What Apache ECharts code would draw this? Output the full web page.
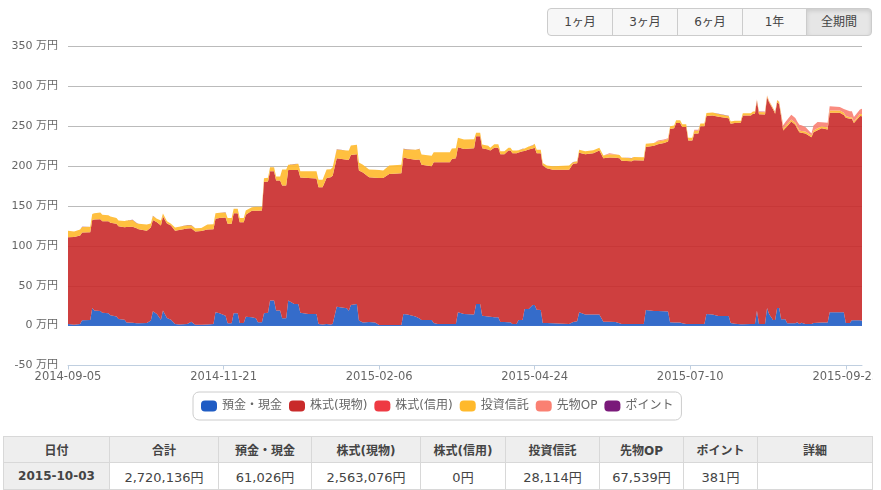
<!DOCTYPE html>
<html lang="ja">

<head>
    <meta charset="UTF-8">
    <title>資産推移</title>
    <script src="https://cdn.jsdelivr.net/npm/echarts/dist/echarts.min.js"></script>
    <style>
        html, body { margin: 0; padding: 0; background: #fff; overflow: hidden; }
        body { width: 881px; height: 490px; position: relative; font-family: "DejaVu Sans", "Noto Sans CJK JP", sans-serif; color: #444; }
        #chart { position: absolute; left: 0; top: 0; width: 873px; height: 430px; }
        #range { position: absolute; left: 547px; top: 8px; display: flex; height: 28px; }
        #range div { box-sizing: border-box; height: 28px; line-height: 26px; text-align: center; font-size: 12px; border: 1px solid #ccc; margin-left: -1px; background: #f7f7f7; color: #444; }
        #range div:first-child { border-radius: 4px 0 0 4px; margin-left: 0; }
        #range div:last-child { border-radius: 0 4px 4px 0; background: #e6e6e6; box-shadow: inset 0 2px 4px rgba(0,0,0,.12); }
        table { position: absolute; left: 3px; top: 436px; width: 870px; height: 54px; border-collapse: collapse; table-layout: fixed; font-size: 13px; }
        th, td { border: 1px solid #d8d8d8; text-align: center; padding: 0; font-weight: normal; }
        th { background: #eee; font-weight: bold; font-size: 12px; }
        tr:first-child th { height: 25px; }
    </style>
</head>

<body>
    <div id="chart"></div>
    <div id="range"></div>
    <table id="summary"></table>
    <script>
        const rangeLabels = ['1ヶ月', '3ヶ月', '6ヶ月', '1年', '全期間'];
        const rangeWidths = [66, 66, 66, 65, 66];
        const seriesNames = ['預金・現金', '株式(現物)', '株式(信用)', '投資信託', '先物OP', 'ポイント'];
        const seriesColors = ['#1f5cc4', '#c92a2a', '#ee3a43', '#ffb92b', '#fa8072', '#7a1a7a'];
        const tickLabels = ['2014-09-05', '2014-11-21', '2015-02-06', '2015-04-24', '2015-07-10', '2015-09-25'];

        const tableHead = ['日付', '合計', '預金・現金', '株式(現物)', '株式(信用)', '投資信託', '先物OP', 'ポイント', '詳細'];
        const tableRow = ['2015-10-03', '2,720,136円', '61,026円', '2,563,076円', '0円', '28,114円', '67,539円', '381円', ''];
        const tableWidths = [106, 109, 93, 109, 85, 94, 84, 74, 115];

        // 2014-09-05 からの経過日数
        const days = [
            0, 3, 6, 7, 11, 12, 13, 16, 17, 20,
            21, 24, 25, 28, 29, 32, 34, 35, 39, 41,
            42, 44, 46, 47, 49, 51, 53, 55, 59, 61,
            63, 66, 69, 72, 73, 75, 78, 79, 81, 82,
            84, 85, 87, 88, 91, 93, 94, 96, 97, 99,
            100, 102, 103, 105, 106, 108, 109, 112, 114, 115,
            119, 123, 124, 126, 128, 130, 131, 133, 138, 139,
            140, 143, 144, 146, 149, 152, 154, 156, 159, 165,
            166, 168, 172, 174, 175, 180, 181, 183, 189, 190,
            192, 193, 196, 201, 202, 204, 205, 208, 209, 211,
            213, 214, 216, 218, 219, 220, 222, 223, 225, 226,
            228, 230, 231, 232, 234, 235, 237, 240, 248, 250,
            252, 253, 256, 260, 263, 265, 268, 271, 273, 274,
            279, 280, 285, 286, 290, 292, 295, 297, 298, 300,
            301, 303, 304, 306, 307, 309, 310, 312, 313, 315,
            316, 319, 322, 327, 328, 330, 333, 334, 338, 339,
            340, 341, 342, 345, 346, 347, 349, 350, 351, 352,
            353, 354, 355, 356, 358, 360, 361, 362, 363, 365,
            368, 369, 371, 373, 376, 377, 382, 384, 385, 387,
            388, 389, 392, 393
        ];
        // 単位: 万円
        const cash = [
            2, 1.2, 2, 6.7, 7, 22, 19, 18.4, 16, 15.5,
            13, 11.3, 8.4, 7.5, 4, 3.5, 3, 3, 3.3, 6.3,
            18, 14.6, 7.5, 19, 9.6, 7.5, 2, 1.5, 2, 5,
            1.2, 1.2, 1.5, 2, 16.7, 15.5, 12.5, 3, 3, 15.5,
            15.5, 3.3, 3.3, 11, 10.5, 9.2, 4.2, 4.2, 15.5, 16,
            31.4, 31.4, 19, 19, 9.2, 9.2, 31.4, 27, 27, 16,
            14.6, 14.6, 2, 1.5, 2, 1.5, 2, 23.8, 21.8, 18.8,
            26, 27, 6.3, 3.8, 4.6, 3.8, 0.8, 0.8, 0.8, 0.8,
            14.6, 13.8, 11.3, 9, 7, 7, 3.3, 2, 2, 2,
            2, 16.7, 14.6, 13.8, 27, 27, 12.5, 11.3, 11, 10.5,
            10.5, 4.6, 4.6, 4.2, 4.2, 2, 2, 7, 7, 21,
            21, 26, 26, 20, 19.7, 3.3, 3.3, 3, 2, 4.6,
            5.4, 16.7, 13.8, 13.8, 13.8, 5, 4.8, 4.6, 3, 2,
            2, 2, 2, 19.7, 18.4, 18.2, 18, 17.6, 4.2, 4,
            4, 3.8, 3, 2, 2, 2, 2, 2, 2, 2,
            14.6, 14, 12, 12, 3.3, 2.5, 1.7, 1.7, 2, 2,
            2, 18.8, 2, 2, 22, 14.6, 7, 7, 22, 22,
            8, 8, 8, 3, 3, 3, 4.2, 2, 3.5, 2,
            2, 3.3, 3.5, 3.8, 3.8, 16.7, 16.7, 16.7, 3.3, 3.3,
            6.7, 6.7, 6.7, 6.1
        ];
        const stock = [
            108.8, 109.8, 111, 110, 110, 110.6, 114, 115, 115, 115.5,
            116, 116.3, 116.2, 115.9, 119.6, 120.5, 119, 118, 115.7, 116.7,
            114.6, 115.1, 118, 117.8, 118.4, 118, 117, 118.5, 119.7, 117,
            116.8, 117.3, 118.9, 119, 117.3, 119.5, 123, 124.6, 124.6, 125.5,
            125.5, 126.4, 126.4, 128, 133.5, 134.8, 139.8, 140.1, 164.5, 164.7,
            162.2, 162.2, 163, 163, 166.5, 166.5, 163.6, 168, 168, 169.7,
            170.4, 169.8, 171.5, 172, 183, 184.5, 186, 186.2, 186.2, 189.2,
            188, 188, 188.2, 188.2, 181.4, 181.7, 184.2, 184.2, 189.2, 190.2,
            196.4, 195.7, 196.7, 199.3, 194.6, 193, 201.7, 203, 203, 207,
            208, 207, 207, 208.7, 210.6, 210.6, 210, 209.7, 208.6, 212.5,
            212.5, 210.4, 210.4, 215.4, 215.4, 214, 214, 210, 211.7, 198,
            199.8, 196, 197, 196, 196.3, 197.4, 194.1, 192.3, 193.3, 198.4,
            198.3, 200, 201.2, 202.2, 205.8, 205, 206, 205.9, 207, 204.7,
            204, 205.4, 205, 204.3, 207, 209.3, 211, 213.2, 242.5, 243.6,
            250, 250.2, 246, 247, 230, 230, 239, 239, 248, 248,
            248.1, 249.5, 250, 248, 249.7, 251.5, 252.6, 261.8, 261.5, 263.6,
            263.6, 263.2, 263, 262.7, 264.5, 265.4, 264, 258.6, 258, 256,
            254, 236.7, 239.5, 247, 253, 248.8, 242.8, 240.6, 238.5, 239,
            234.3, 239.3, 241.5, 243.8, 242.2, 250.1, 250.1, 247.3, 257.3, 256,
            252.7, 247.3, 256, 256.3
        ];
        const margin = [
            0, 0, 0, 0, 0, 0, 0, 0, 0, 0,
            0, 0, 0, 0, 0, 0, 0, 0, 0, 0,
            0, 0, 0, 0, 0, 0, 0, 0, 0, 0,
            0, 0, 0, 0, 0, 0, 0, 0, 0, 0,
            0, 0, 0, 0, 0, 0, 0, 0, 0, 0,
            0, 0, 0, 0, 0, 0, 0, 0, 0, 0,
            0, 0, 0, 0, 0, 0, 0, 0, 0, 0,
            0, 0, 0, 0, 0, 0, 0, 0, 0, 0,
            0, 0, 0, 0, 0, 0, 0, 0, 0, 0,
            0, 0, 0, 0, 0, 0, 0, 0, 0, 0,
            0, 0, 0, 0, 0, 0, 0, 0, 0, 0,
            0, 0, 0, 0, 0, 0, 0, 0, 0, 0,
            0, 0, 0, 0, 0, 0, 0, 0, 0, 0,
            0, 0, 0, 0, 0, 0, 0, 0, 0, 0,
            0, 0, 0, 0, 0, 0, 0, 0, 0, 0,
            0, 0, 0, 0, 0, 0, 0, 0, 0, 0,
            0, 0, 0, 0, 0, 0, 0, 0, 0, 0,
            0, 0, 0, 0, 0, 0, 0, 0, 0, 0,
            0, 0, 0, 0, 0, 0, 0, 0, 0, 0,
            0, 0, 0, 0
        ];
        const trust = [
            8.2, 7, 7.4, 7.1, 7, 7.4, 8, 8.4, 8, 7.4,
            7.8, 7.4, 7.1, 7.9, 8.2, 8.6, 6.5, 6.6, 7.7, 5,
            5, 4.3, 6.2, 3.7, 2.9, 2.1, 4, 4, 4.3, 4,
            4, 4, 6.3, 6, 7, 6.5, 6.5, 7.4, 7.4, 5.4,
            5.4, 5.3, 5.3, 5.3, 4.5, 5, 5, 4.7, 4.8, 4.6,
            5, 5, 5, 5, 20, 20, 6.6, 7.5, 8, 7.9,
            8.6, 9.2, 9.3, 9.5, 10.7, 10, 10.6, 11, 11.6, 11.6,
            11.8, 11.7, 10, 9.6, 9.7, 10, 10, 9.5, 10.7, 10.6,
            10.6, 11.5, 12.5, 13.3, 13, 12.9, 12.4, 12.4, 12.4, 13,
            12.5, 11.8, 11.8, 11.3, 4.1, 4.1, 4.5, 4.5, 3.4, 4.5,
            4.5, 3.7, 3.7, 3.4, 3.4, 3.6, 3.6, 3, 2.9, 3,
            3.8, 4, 5, 4.4, 4.4, 3.3, 3.3, 4.6, 5.4, 2,
            2.3, 3.7, 3.7, 3.8, 3.4, 3.3, 4.2, 4, 4, 4,
            4, 4, 4, 4, 3.6, 3.5, 3.5, 3.2, 3.3, 3.4,
            3.5, 3.5, 3.5, 3.5, 3.5, 3.5, 3.5, 3.5, 3.5, 3.5,
            3.8, 3.8, 3.5, 3, 3, 3, 2.7, 2.8, 2.8, 2.8,
            2.8, 1, 2.8, 2.8, 1.5, 1.5, 1.5, 2, 2.5, 2.5,
            2.5, 2.6, 2.6, 2.6, 2.5, 2.5, 2.5, 2.1, 2.2, 2.3,
            2.1, 2.1, 2.6, 2.4, 2.5, 2.8, 2.8, 2.8, 2.1, 2,
            2, 2, 2.6, 2.8
        ];
        const futures = [
            0, 0, 0, 0, 0, 0, 0, 0, 0, 0,
            0, 0, 0, 0, 0, 0, 0, 0, 0, 0,
            0, 0, 0, 0, 0, 0, 0, 0, 0, 0,
            0, 0, 0, 0, 0, 0, 0, 0, 0, 0,
            0, 0, 0, 0, 0, 0, 0, 0, 0, 0,
            0, 0, 0, 0, 0, 0, 0, 0, 0, 0,
            0, 0, 0, 0, 0, 0, 0, 0, 0, 0,
            0, 0, 0, 0, 0, 0, 0, 0, 0, 0,
            0, 0, 0, 0, 0, 0, 0, 0, 0, 0,
            0, 0, 0, 0, 0, 0, 0, 0, 0, 0,
            0, 0, 0, 0, 0, 0, 0, 0, 0, 0,
            0, 0, 0, 0, 0, 0, 0, 0, 0, 0,
            0, 0, 0, 0, 0, 0, 1, 0.5, 0, 0,
            0, 0, 0, 0, 0, 1, 1, 1, 0, 0,
            0, 0, 0, 0, 0, 0, 1, 1, 0, 0,
            0, 0, 0, 0, 0, 0, 0, 0, 0, 0,
            0.5, 0.6, 0.5, 1, 0.6, 0.5, 0.5, 0.4, 0.5, 0.5,
            1, 4, 5, 5.5, 5.9, 6, 6, 7.1, 7, 5.7,
            2.6, 6.3, 7.8, 5, 5.8, 5.5, 4.5, 4.8, 8, 7.5,
            7.5, 5.5, 5.8, 6.75
        ];
        const point = [
            0.04, 0.04, 0.04, 0.04, 0.04, 0.04, 0.04, 0.04, 0.04, 0.04,
            0.04, 0.04, 0.04, 0.04, 0.04, 0.04, 0.04, 0.04, 0.04, 0.04,
            0.04, 0.04, 0.04, 0.04, 0.04, 0.04, 0.04, 0.04, 0.04, 0.04,
            0.04, 0.04, 0.04, 0.04, 0.04, 0.04, 0.04, 0.04, 0.04, 0.04,
            0.04, 0.04, 0.04, 0.04, 0.04, 0.04, 0.04, 0.04, 0.04, 0.04,
            0.04, 0.04, 0.04, 0.04, 0.04, 0.04, 0.04, 0.04, 0.04, 0.04,
            0.04, 0.04, 0.04, 0.04, 0.04, 0.04, 0.04, 0.04, 0.04, 0.04,
            0.04, 0.04, 0.04, 0.04, 0.04, 0.04, 0.04, 0.04, 0.04, 0.04,
            0.04, 0.04, 0.04, 0.04, 0.04, 0.04, 0.04, 0.04, 0.04, 0.04,
            0.04, 0.04, 0.04, 0.04, 0.04, 0.04, 0.04, 0.04, 0.04, 0.04,
            0.04, 0.04, 0.04, 0.04, 0.04, 0.04, 0.04, 0.04, 0.04, 0.04,
            0.04, 0.04, 0.04, 0.04, 0.04, 0.04, 0.04, 0.04, 0.04, 0.04,
            0.04, 0.04, 0.04, 0.04, 0.04, 0.04, 0.04, 0.04, 0.04, 0.04,
            0.04, 0.04, 0.04, 0.04, 0.04, 0.04, 0.04, 0.04, 0.04, 0.04,
            0.04, 0.04, 0.04, 0.04, 0.04, 0.04, 0.04, 0.04, 0.04, 0.04,
            0.04, 0.04, 0.04, 0.04, 0.04, 0.04, 0.04, 0.04, 0.04, 0.04,
            0.04, 0.04, 0.04, 0.04, 0.04, 0.04, 0.04, 0.04, 0.04, 0.04,
            0.04, 0.04, 0.04, 0.04, 0.04, 0.04, 0.04, 0.04, 0.04, 0.04,
            0.04, 0.04, 0.04, 0.04, 0.04, 0.04, 0.04, 0.04, 0.04, 0.04,
            0.04, 0.04, 0.04, 0.04
        ];

        const seriesValues = [cash, stock, margin, trust, futures, point];
        const legendIcon = 'path://M4,0H12A4,4,0,0,1,16,4V7A4,4,0,0,1,12,11H4A4,4,0,0,1,0,7V4A4,4,0,0,1,4,0Z';

        // 期間ボタン
        document.getElementById('range').innerHTML = rangeLabels
            .map((t, i) => `<div style="width:${rangeWidths[i]}px">${t}</div>`).join('');

        // 集計テーブル
        document.getElementById('summary').innerHTML =
            '<colgroup>' + tableWidths.map(w => `<col style="width:${w}px">`).join('') + '</colgroup>' +
            '<tr>' + tableHead.map(t => `<th>${t}</th>`).join('') + '</tr>' +
            '<tr>' + tableRow.map((t, i) => i === 0 ? `<th>${t}</th>` : `<td>${t}</td>`).join('') + '</tr>';

        const chart = echarts.init(document.getElementById('chart'));

        chart.setOption({
            animation: false,
            textStyle: { fontFamily: '"DejaVu Sans", "Noto Sans CJK JP", sans-serif' },
            grid: { left: 68, right: 11, top: 46.5, height: 319, containLabel: false, outerBoundsMode: 'none' },
            legend: {
                top: 392,
                left: 193,
                padding: [8, 8],
                itemWidth: 16,
                itemHeight: 11,
                itemGap: 7,
                icon: legendIcon,
                borderColor: '#ccc',
                borderWidth: 1,
                borderRadius: 6,
                textStyle: { fontSize: 12, color: '#666' },
                data: seriesNames
            },
            xAxis: {
                type: 'value',
                min: 0,
                max: 393,
                interval: 77,
                splitLine: { show: false },
                axisLine: { onZero: false, lineStyle: { color: '#c0cfe0' } },
                axisTick: { length: 4, lineStyle: { color: '#c0cfe0' } },
                axisLabel: {
                    fontSize: 11.5,
                    color: '#666',
                    margin: 6,
                    showMinLabel: true,
                    showMaxLabel: false,
                    hideOverlap: false,
                    formatter: v => tickLabels[v / 77] || ''
                }
            },
            yAxis: {
                type: 'value',
                min: -50,
                max: 350,
                interval: 50,
                axisLine: { show: false },
                axisTick: { show: false },
                splitLine: { lineStyle: { color: '#bbb' } },
                axisLabel: { fontSize: 11, color: '#666', margin: 10, formatter: '{value} 万円' }
            },
            // 値を第1次元に置いて積み上げ、日数は encode で x 軸に渡す
            series: seriesNames.map((name, i) => ({
                name: name,
                type: 'line',
                stack: 'total',
                showSymbol: false,
                symbol: 'none',
                color: seriesColors[i],
                lineStyle: { width: 0 },
                areaStyle: { color: seriesColors[i], opacity: 0.9 },
                encode: { x: 1, y: 0 },
                data: days.map((d, k) => [seriesValues[i][k], d]),
                // 0 の位置の青い基線
                markLine: i === 0 ? {
                    silent: true,
                    symbol: 'none',
                    label: { show: false },
                    lineStyle: { color: '#3a6fcc', width: 1, type: 'solid' },
                    data: [{ yAxis: 0 }]
                } : undefined
            }))
        });
    </script>
</body>

</html>
